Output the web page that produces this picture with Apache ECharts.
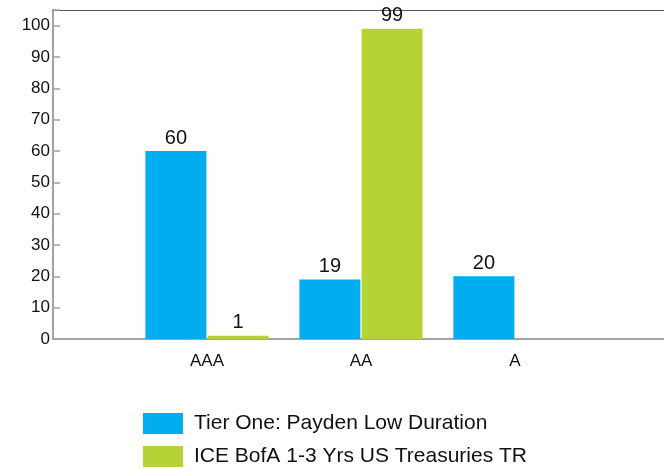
<!DOCTYPE html>
<html>
<head>
<meta charset="utf-8">
<style>
  html, body { margin: 0; padding: 0; background: #ffffff; }
  #chart { width: 664px; height: 470px; }
</style>
<script src="https://cdn.jsdelivr.net/npm/echarts@6/dist/echarts.min.js"></script>
</head>
<body>
<div id="chart"></div>
<script>
// Credit quality breakdown (%)
const categories = ['AAA', 'AA', 'A'];
const seriesNames = ['Tier One: Payden Low Duration', 'ICE BofA 1-3 Yrs US Treasuries TR'];
const fundValues = [60, 19, 20];
const benchValues = [1, 99, null];
const yTickLabels = [0, 10, 20, 30, 40, 50, 60, 70, 80, 90, 100];

const FONT = '"Liberation Sans", Arial, sans-serif';
const BLUE = '#00aeef';
const GREEN = '#b5d334';

// Empty slots on both ends keep the three groups centred along the axis
const axisCats = [''].concat(categories, ['']);
const pad = arr => [null].concat(arr, [null]);

const chart = echarts.init(document.getElementById('chart'), null, { renderer: 'canvas' });

const labelStyle = {
  show: true,
  position: 'top',
  distance: 3,
  color: '#111',
  fontFamily: FONT,
  fontSize: 20,
  formatter: p => (p.value == null ? '' : String(p.value))
};

chart.setOption({
  animation: false,
  backgroundColor: '#ffffff',
  // the plot runs a few pixels past the right edge of the canvas
  grid: { left: 53, right: -5, top: 10, bottom: 131, containLabel: false, outerBoundsMode: 'none' },
  legend: {
    orient: 'vertical',
    left: 143,
    top: 413,
    height: 120,
    itemWidth: 40,
    itemHeight: 21,
    itemGap: 12,
    icon: 'rect',
    padding: 0,
    textStyle: { fontFamily: FONT, fontSize: 21, color: '#111', lineHeight: 21, padding: [0, 0, 0, 6] },
    data: seriesNames
  },
  xAxis: [
    {
      type: 'category',
      data: axisCats,
      boundaryGap: false,
      axisLine: { show: true, lineStyle: { color: '#a3a3a3', width: 2 } },
      axisTick: { show: false },
      axisLabel: { color: '#111', fontFamily: FONT, fontSize: 17, margin: 14, interval: 0 },
      splitLine: { show: false }
    },
    {
      type: 'category',
      position: 'top',
      data: axisCats,
      boundaryGap: false,
      axisLine: { show: true, lineStyle: { color: '#555555', width: 1 } },
      axisTick: { show: false },
      axisLabel: { show: false },
      splitLine: { show: false }
    }
  ],
  yAxis: {
    type: 'value',
    min: 0,
    max: 105,
    interval: 10,
    axisLine: { show: true, lineStyle: { color: '#a3a3a3', width: 2 } },
    axisTick: { show: true, inside: true, length: 7, lineStyle: { color: '#a3a3a3', width: 1.5 } },
    axisLabel: {
      color: '#111',
      fontFamily: FONT,
      fontSize: 17,
      margin: 3,
      formatter: v => (yTickLabels.indexOf(v) >= 0 ? String(v) : '')
    },
    splitLine: { show: false }
  },
  series: [
    {
      name: seriesNames[0],
      type: 'bar',
      data: pad(fundValues),
      barWidth: 61,
      barGap: '2%',
      itemStyle: { color: BLUE },
      label: labelStyle
    },
    {
      name: seriesNames[1],
      type: 'bar',
      data: pad(benchValues),
      barWidth: 61,
      barGap: '2%',
      itemStyle: { color: GREEN },
      label: labelStyle
    }
  ]
});
</script>
</body>
</html>
